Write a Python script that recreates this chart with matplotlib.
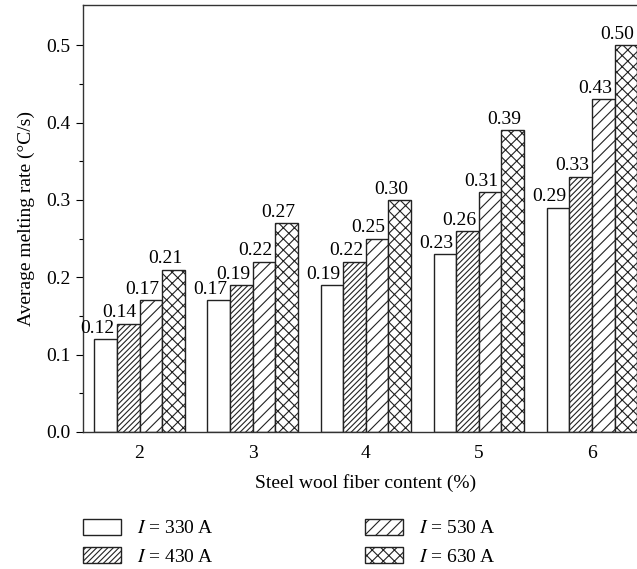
import matplotlib
matplotlib.use("Agg")
import matplotlib.pyplot as plt
import numpy as np

plt.rcParams['font.family'] = ['Liberation Serif', 'DejaVu Serif']
plt.rcParams['mathtext.fontset'] = 'stix'
plt.rcParams['hatch.linewidth'] = 0.8

contents = [2, 3, 4, 5, 6]
series_labels = ["$I$ = 330\u2009A", "$I$ = 430\u2009A", "$I$ = 530\u2009A", "$I$ = 630\u2009A"]
rate_330 = [0.12, 0.17, 0.19, 0.23, 0.29]
rate_430 = [0.14, 0.19, 0.22, 0.26, 0.33]
rate_530 = [0.17, 0.22, 0.25, 0.31, 0.43]
rate_630 = [0.21, 0.27, 0.30, 0.39, 0.50]
series = [rate_330, rate_430, rate_530, rate_630]
hatches = [None, '//////', '///', 'xxx']

FS = 14
fig = plt.figure(figsize=(6.37, 5.69), dpi=100)
ax = fig.add_axes([83/637, 137/569, 565.5/637, 427/569])

width = 0.2
x = np.array(contents, dtype=float)
handles = []
for i, (vals, h, lab) in enumerate(zip(series, hatches, series_labels)):
    pos = x + (i - 1.5) * width
    bars = ax.bar(pos, vals, width=width, facecolor='white', edgecolor='#222222',
                  linewidth=1.0, hatch=h, label=lab)
    handles.append(bars)
    for p, v in zip(pos, vals):
        ax.text(p - 0.075, v + 0.003, f"{v:.2f}", ha='center', va='bottom', fontsize=FS)

ax.set_xlim(1.5, 6.5)
ax.set_ylim(0, 0.552)
ax.set_xticks(contents)
ax.set_xticklabels([str(c) for c in contents])
ax.set_yticks(np.arange(0, 0.51, 0.1))
ax.set_yticklabels([f"{v:.1f}" for v in np.arange(0, 0.51, 0.1)])
ax.set_yticks(np.arange(0.05, 0.55, 0.1), minor=True)
ax.tick_params(axis='y', which='major', direction='out', length=5, width=0.8, labelsize=FS, pad=4)
ax.tick_params(axis='y', which='minor', direction='out', length=3, width=0.8)
ax.tick_params(axis='x', which='both', length=0, labelsize=FS, pad=9)
for s in ax.spines.values():
    s.set_linewidth(1.0)
    s.set_color('#333333')
ax.set_xlabel("Steel wool fiber content (%)", fontsize=FS, labelpad=9)
ax.set_ylabel("Average melting rate (\u00b0C/s)", fontsize=FS, labelpad=8)

fig.legend(handles=handles, labels=series_labels, ncol=2, loc='upper left',
           bbox_to_anchor=(83/637, 1 - 519/569), frameon=False, fontsize=FS,
           borderpad=0, borderaxespad=0, handlelength=1.95, handleheight=0.85,
           handletextpad=0.82, labelspacing=0.5, columnspacing=7.8)

fig.savefig("out.png", dpi=100)
